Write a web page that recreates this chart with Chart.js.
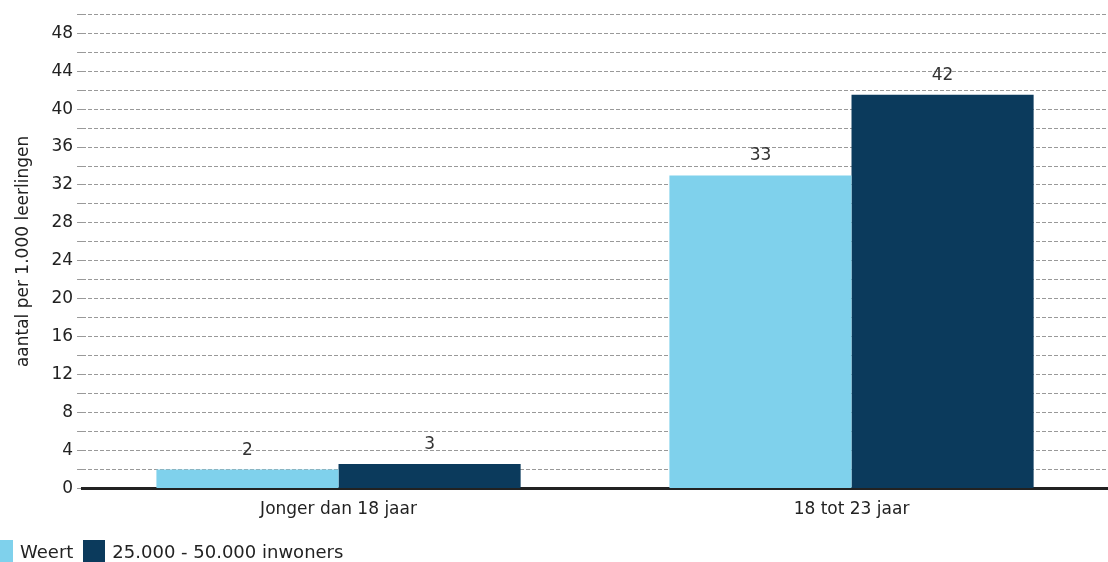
<!DOCTYPE html>
<html lang="nl">
<head>
    <meta charset="UTF-8">
    <title>Leerlingen per 1.000</title>
    <script src="https://cdn.jsdelivr.net/npm/chart.js"></script>
    <style>
        html, body {
            margin: 0;
            padding: 0;
            background-color: #ffffff;
            overflow: hidden;
            font-family: 'DejaVu Sans', Verdana, sans-serif;
        }
        #chart-container {
            width: 1117px;
            height: 562px;
            margin-left: -9px;
            position: relative;
        }
        #legend {
            position: absolute;
            left: -9px;
            top: 540px;
            display: flex;
            align-items: center;
            font-size: 18px;
            color: #222222;
        }
        .legend-item {
            display: flex;
            align-items: center;
            margin-right: 10px;
        }
        .legend-box {
            width: 22px;
            height: 22px;
            margin-right: 7px;
        }
    </style>
</head>
<body>

<div id="chart-container">
    <canvas id="barChart"></canvas>
</div>
<div id="legend"></div>

<script>
const categories = ['Jonger dan 18 jaar', '18 tot 23 jaar'];
const weertValues = [2.0, 33.0];
const gemeenteValues = [2.6, 41.5];
const seriesNames = ['Weert', '25.000 - 50.000 inwoners'];
const seriesColors = ['#7fd1ec', '#0b3a5c'];

const fontFamily = "'DejaVu Sans', Verdana, sans-serif";

// writes the rounded value above each bar
const valueLabels = {
    id: 'valueLabels',
    afterDatasetsDraw(chart) {
        const ctx = chart.ctx;
        ctx.save();
        ctx.font = '17px ' + fontFamily;
        ctx.fillStyle = '#333333';
        ctx.textAlign = 'center';
        ctx.textBaseline = 'bottom';
        chart.data.datasets.forEach((ds, i) => {
            chart.getDatasetMeta(i).data.forEach((bar, j) => {
                ctx.fillText(Math.round(ds.data[j]), bar.x, bar.y - 11);
            });
        });
        ctx.restore();
    }
};

var ctx = document.getElementById('barChart').getContext('2d');
new Chart(ctx, {
    type: 'bar',
    data: {
        labels: categories,
        datasets: seriesNames.map((name, i) => ({
            label: name,
            data: i === 0 ? weertValues : gemeenteValues,
            backgroundColor: seriesColors[i],
            categoryPercentage: 0.71,
            barPercentage: 1.0
        }))
    },
    options: {
        responsive: true,
        maintainAspectRatio: false,
        animation: false,
        layout: {
            padding: { top: 2, left: 18, right: 0, bottom: 39 }
        },
        plugins: {
            legend: { display: false },
            tooltip: { enabled: false }
        },
        scales: {
            x: {
                grid: { display: false },
                border: { display: true, width: 3, color: '#222222' },
                ticks: {
                    color: '#222222',
                    padding: 3,
                    font: { family: fontFamily, size: 17 }
                }
            },
            y: {
                min: 0,
                max: 50,
                ticks: {
                    stepSize: 2,
                    autoSkip: false,
                    color: '#222222',
                    padding: 4,
                    font: { family: fontFamily, size: 17 },
                    callback: v => (v % 4 === 0 && v < 50) ? v : ''
                },
                grid: {
                    color: '#999999',
                    lineWidth: 1,
                    tickLength: 5
                },
                border: { display: false, dash: [4, 2] },
                title: {
                    display: true,
                    text: 'aantal per 1.000 leerlingen',
                    color: '#222222',
                    padding: { top: 4, bottom: 14 },
                    font: { family: fontFamily, size: 17 }
                }
            }
        }
    },
    plugins: [valueLabels]
});

// legend below the chart
const legendEl = document.getElementById('legend');
seriesNames.forEach((name, i) => {
    const item = document.createElement('div');
    item.className = 'legend-item';
    const box = document.createElement('span');
    box.className = 'legend-box';
    box.style.backgroundColor = seriesColors[i];
    const text = document.createElement('span');
    text.textContent = name;
    item.appendChild(box);
    item.appendChild(text);
    legendEl.appendChild(item);
});
</script>

</body>
</html>
